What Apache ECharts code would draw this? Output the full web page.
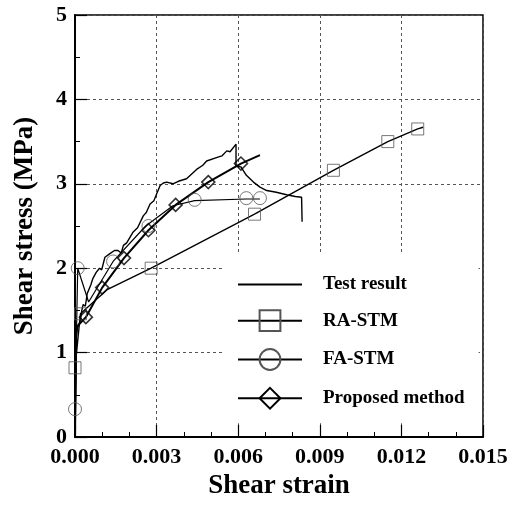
<!DOCTYPE html>
<html>
<head>
<meta charset="utf-8">
<script src="https://cdn.jsdelivr.net/npm/echarts@6/dist/echarts.min.js"></script>
<style>html,body{margin:0;padding:0;background:#fff;}#c{width:516px;height:505px;}</style>
</head>
<body>
<div id="c"></div>
<script>
// ---- data ----
var xTicks = [0.000, 0.003, 0.006, 0.009, 0.012, 0.015];
var yTicks = [0, 1, 2, 3, 4, 5];
var seriesNames = ['Test result', 'RA-STM', 'FA-STM', 'Proposed method'];

var testX = [0, 0.00003, 0.00005, 0.0001, 0.0002, 0.00025, 0.0003, 0.00038, 0.00045, 0.0005, 0.00058, 0.00066, 0.0007, 0.00078, 0.0009, 0.00098, 0.0011, 0.00127, 0.00145, 0.00158, 0.0017, 0.00178, 0.0019, 0.00214, 0.0023, 0.00251, 0.00262, 0.00276, 0.0029, 0.003, 0.00313, 0.00325, 0.00337, 0.0036, 0.0038, 0.0041, 0.0043, 0.00447, 0.0047, 0.00484, 0.0052, 0.0054, 0.00558, 0.0057, 0.00592, 0.00592, 0.0061, 0.0063, 0.00656, 0.0068, 0.00705, 0.0074, 0.00778, 0.0081, 0.00833, 0.00835];
var testY = [0, 0.6, 1.2, 1.3, 1.38, 1.5, 1.57, 1.55, 1.7, 1.68, 1.8, 1.88, 1.86, 1.95, 2.0, 1.98, 2.13, 2.17, 2.21, 2.21, 2.18, 2.27, 2.3, 2.43, 2.48, 2.62, 2.66, 2.76, 2.8, 2.88, 2.98, 3.01, 3.02, 3.0, 3.03, 3.06, 3.12, 3.17, 3.22, 3.27, 3.31, 3.33, 3.39, 3.38, 3.47, 3.21, 3.2, 3.1, 3.02, 2.96, 2.92, 2.9, 2.87, 2.85, 2.84, 2.55];

var raX = [0, 0, 0.0002, 0.0012, 0.0028, 0.0066, 0.0095, 0.0115, 0.0126, 0.0128];
var raY = [0, 0.82, 1.46, 1.75, 2.0, 2.64, 3.16, 3.5, 3.65, 3.67];
var raMarkX = [0, 0.0002, 0.0028, 0.0066, 0.0095, 0.0115, 0.0126];
var raMarkY = [0.82, 1.46, 2.0, 2.64, 3.16, 3.5, 3.65];

var faX = [0, 0, 0.0001, 0.0005, 0.0014, 0.0026, 0.0036, 0.0044, 0.0063, 0.0068];
var faY = [0, 0.33, 2.0, 1.6, 2.08, 2.5, 2.74, 2.8, 2.82, 2.82];
var faMarkX = [0, 0.0001, 0.0014, 0.0027, 0.0044, 0.0063, 0.0068];
var faMarkY = [0.33, 2.0, 2.08, 2.5, 2.81, 2.83, 2.83];

var pmX = [0, 0.00005, 0.0004, 0.001, 0.0018, 0.0027, 0.0037, 0.0049, 0.0061, 0.0068];
var pmY = [0, 1.3, 1.42, 1.77, 2.12, 2.45, 2.75, 3.02, 3.24, 3.34];
var pmMarkX = [0.0004, 0.001, 0.0018, 0.0027, 0.0037, 0.0049, 0.0061];
var pmMarkY = [1.42, 1.77, 2.12, 2.45, 2.75, 3.02, 3.24];

function pairs(xs, ys) { return xs.map(function (x, i) { return [x, ys[i]]; }); }

var serif = '"Liberation Serif", "Times New Roman", serif';
var chart = echarts.init(document.getElementById('c'), null, {renderer: 'canvas'});

var gridLine = {show: true, lineStyle: {color: '#555', type: [3, 3], width: 1}};

chart.setOption({
  animation: false,
  backgroundColor: '#fff',
  grid: {left: 75, right: 33, top: 15, bottom: 65, show: true, borderColor: '#000', borderWidth: 1.5, backgroundColor: 'transparent'},
  legend: {
    orient: 'vertical', left: 223, top: 254,
    padding: [20, 14, 12, 14],
    backgroundColor: '#fff',
    itemWidth: 64, itemHeight: 26, itemGap: 13,
    data: [
      {name: seriesNames[0], itemStyle: {opacity: 0}},
      {name: seriesNames[1]},
      {name: seriesNames[2]},
      {name: seriesNames[3]}
    ],
    textStyle: {fontFamily: serif, fontWeight: 'bold', fontSize: 19, color: '#000', padding: [0, 0, 0, 16]},
    selectedMode: false
  },
  xAxis: {
    type: 'value', min: xTicks[0], max: xTicks[xTicks.length - 1], interval: 0.003,
    name: 'Shear strain', nameLocation: 'middle', nameGap: 36,
    nameTextStyle: {fontFamily: serif, fontWeight: 'bold', fontSize: 27, color: '#000'},
    axisLine: {show: true, onZero: false, lineStyle: {color: '#000', width: 2}},
    axisTick: {show: true, inside: true, length: 12, lineStyle: {color: '#000', width: 1.2}},
    minorTick: {show: true, splitNumber: 3, length: 5, lineStyle: {color: '#000', width: 1}},
    axisLabel: {margin: 9, fontFamily: serif, fontWeight: 'bold', fontSize: 22, color: '#000',
      formatter: function (v) { return v.toFixed(3); }},
    splitLine: gridLine
  },
  yAxis: {
    type: 'value', min: yTicks[0], max: yTicks[yTicks.length - 1], interval: 1,
    name: 'Shear stress (MPa)', nameLocation: 'middle', nameGap: 36,
    nameTextStyle: {fontFamily: serif, fontWeight: 'bold', fontSize: 27, color: '#000'},
    axisLine: {show: true, onZero: false, lineStyle: {color: '#000', width: 2}},
    axisTick: {show: true, inside: true, length: 12, lineStyle: {color: '#000', width: 1.2}},
    minorTick: {show: true, splitNumber: 2, length: 5, lineStyle: {color: '#000', width: 1}},
    axisLabel: {margin: 8, fontFamily: serif, fontWeight: 'bold', fontSize: 22, color: '#000'},
    splitLine: gridLine
  },
  series: [
    {name: seriesNames[0], type: 'line', data: pairs(testX, testY), symbol: 'none', showSymbol: false,
      lineStyle: {color: '#000', width: 1.4}, itemStyle: {color: '#000'}, z: 3},
    {name: seriesNames[1], type: 'line', data: pairs(raX, raY), symbol: 'rect', symbolSize: 21, showSymbol: false,
      lineStyle: {color: '#000', width: 1.4}, itemStyle: {color: 'none', borderColor: '#555', borderWidth: 1}, z: 2},
    {name: seriesNames[2], type: 'line', data: pairs(faX, faY), symbol: 'circle', symbolSize: 21, showSymbol: false,
      lineStyle: {color: '#000', width: 1.2}, itemStyle: {color: 'none', borderColor: '#555', borderWidth: 1}, z: 2},
    {name: seriesNames[3], type: 'line', data: pairs(pmX, pmY), symbol: 'diamond', symbolSize: 20, showSymbol: false,
      lineStyle: {color: '#000', width: 2}, itemStyle: {color: 'none', borderColor: '#000', borderWidth: 1.8}, z: 4},
    {name: 'RA-STM points', type: 'scatter', data: pairs(raMarkX, raMarkY), symbol: 'rect', symbolSize: 12,
      itemStyle: {color: 'none', borderColor: '#555', borderWidth: 1}, z: 5},
    {name: 'FA-STM points', type: 'scatter', data: pairs(faMarkX, faMarkY), symbol: 'circle', symbolSize: 13,
      itemStyle: {color: 'none', borderColor: '#555', borderWidth: 1}, z: 5},
    {name: 'Proposed method points', type: 'scatter', data: pairs(pmMarkX, pmMarkY), symbol: 'diamond', symbolSize: 13,
      itemStyle: {color: 'none', borderColor: '#000', borderWidth: 1.6}, z: 6}
  ]
});
</script>
</body>
</html>
